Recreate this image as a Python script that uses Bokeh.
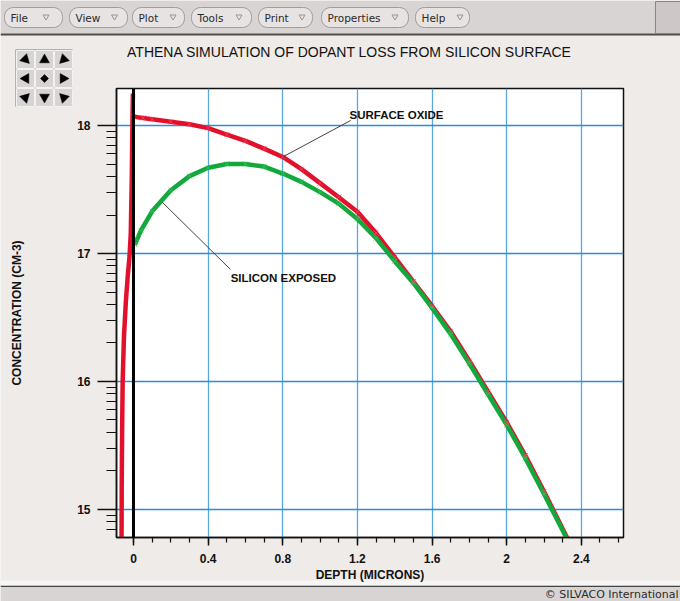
import math
from bokeh.plotting import figure
from bokeh.models import Span, Label, FixedTicker, Range1d, GridBox
from bokeh.core.properties import value
from bokeh.embed import file_html
from bokeh.resources import INLINE

# Dopant profiles: log10 of concentration (cm^-3) against depth (microns).
# The oxide layer lies at negative depth, silicon begins at depth 0.
oxide_depth = [-0.064, -0.063, -0.061, -0.058, -0.051, -0.041, -0.031, -0.021, -0.0145, -0.009, -0.005, -0.003]
oxide_conc = [14.70, 15.20, 15.60, 16.00, 16.35, 16.62, 16.82, 16.98, 17.16, 17.60, 18.10, 18.25]

capped_depth = [0.0, 0.05, 0.1, 0.2, 0.3, 0.4, 0.5, 0.6, 0.7, 0.8, 0.9, 1.0, 1.1, 1.2,
                1.3, 1.4, 1.5, 1.6, 1.7, 1.8, 1.9, 2.0, 2.1, 2.2, 2.33]
capped_conc = [18.07, 18.06, 18.05, 18.03, 18.01, 17.98, 17.93, 17.88, 17.82, 17.755,
               17.66, 17.55, 17.44, 17.326, 17.16, 16.97, 16.78, 16.59, 16.39, 16.16,
               15.92, 15.68, 15.42, 15.14, 14.76]

exposed_depth = [0.008, 0.008, 0.04, 0.1, 0.2, 0.3, 0.4, 0.5, 0.6, 0.7, 0.8, 0.9, 1.0, 1.1,
                 1.2, 1.3, 1.4, 1.5, 1.6, 1.7, 1.8, 1.9, 2.0, 2.1, 2.2, 2.33]
exposed_conc = [17.12, 17.07, 17.18, 17.33, 17.495, 17.605, 17.67, 17.70, 17.70, 17.68,
                17.625, 17.56, 17.48, 17.39, 17.27, 17.12, 16.94, 16.77, 16.575, 16.37,
                16.14, 15.90, 15.66, 15.40, 15.12, 14.75]

depth_ticks = [0, 0.4, 0.8, 1.2, 1.6, 2.0, 2.4]
depth_tick_labels = ["0", "0.4", "0.8", "1.2", "1.6", "2", "2.4"]
conc_ticks = [15, 16, 17, 18]
conc_tick_labels = ["15", "16", "17", "18"]

menu_names = ["File", "View", "Plot", "Tools", "Print", "Properties", "Help"]

RED = "#e3102c"
GREEN = "#13a83b"
FONT = "Liberation Sans"
BG = "#efebe8"
BAR = "#d9d4d4"
W, H = 680, 601

# ---------------------------------------------------------------- window chrome
# pixel-space canvas underneath the plot: menu bar, pan pad, title, status bar
ui = figure(width=W, height=H, x_range=Range1d(0, W), y_range=Range1d(H, 0),
            x_axis_type=None, y_axis_type=None, output_backend="svg",
            toolbar_location=None, min_border=0, outline_line_color=None,
            background_fill_color=BG, border_fill_color=BG)
ui.xgrid.visible = False
ui.ygrid.visible = False
ui.frame_align = False


def rounded(l, t, r, b, rad, n=6):
    xs, ys = [], []
    corners = [(r - rad, t + rad, -90, 0), (r - rad, b - rad, 0, 90),
               (l + rad, b - rad, 90, 180), (l + rad, t + rad, 180, 270)]
    for cx, cy, a0, a1 in corners:
        for k in range(n + 1):
            a = math.radians(a0 + (a1 - a0) * k / n)
            xs.append(cx + rad * math.cos(a))
            ys.append(cy + rad * math.sin(a))
    return xs, ys


# bars: menu bar, its lower edge, corner box, status bar, its upper edge, light rule
ui.quad(left=[0, 0, 655, 0, 0, 0], right=[W, W, W, W, W, W],
        top=[0, 33, 1, 585, 585, 580], bottom=[33, 35, 33, H, 586.5, 585],
        fill_color=[BAR, "#4d4d4d", "#cdc7c7", BAR, "#444444", "#f8f6f5"],
        line_color=[None, None, "#8a8484", None, None, None])

spans = [(4, 62), (69, 127), (132, 184), (191, 251), (258, 312), (321, 408), (415, 469)]
marks = [45.5, 114, 172.5, 238.5, 301.5, 394.5, 459.5]
bx, by, tri_x, tri_y = [], [], [], []
for (l, r), tx in zip(spans, marks):
    xs, ys = rounded(l, 7, r, 27, 9)
    bx.append(xs)
    by.append(ys)
    tri_x.append([tx - 3, tx + 3, tx])
    tri_y.append([14.5, 14.5, 19.5])
ui.patches(bx, by, fill_color="#e7e3e3", line_color="#a29c9c", line_width=1)
ui.patches(tri_x, tri_y, fill_color="#e7e3e3", line_color="#9a9494", line_width=1)
ui.text(x=[l + 6 for l, _ in spans], y=[17] * len(spans), text=menu_names,
        text_font=value("DejaVu Sans"), text_font_size="10.5px",
        text_baseline="middle", text_color="#2a2a2a")

# pan / zoom pad
ui.quad(left=[15], right=[72], top=[49], bottom=[106], fill_color="#7c7676", line_color=None)
cells_l = [16 + 19 * j for i in range(3) for j in range(3)]
cells_t = [50 + 19 * i for i in range(3) for j in range(3)]
ui.quad(left=cells_l, right=[v + 18 for v in cells_l], top=cells_t,
        bottom=[v + 18 for v in cells_t], fill_color="#d9d4d4",
        line_color="#f4f1f1", line_width=1)
dirs = {(0, 0): 45, (0, 1): -90, (0, 2): 135, (1, 0): 180, (1, 2): 0,
        (2, 0): -45, (2, 1): 90, (2, 2): -135}
ax_, ay_ = [], []
for (i, j), ang in dirs.items():
    cx, cy = 16 + 19 * j + 9, 50 + 19 * i + 9
    a = math.radians(ang)
    ux, uy = math.cos(a), math.sin(a)
    rr = 5.5
    ax_.append([cx + rr * ux, cx - 0.6 * rr * ux - 0.9 * rr * uy, cx - 0.6 * rr * ux + 0.9 * rr * uy])
    ay_.append([cy + rr * uy, cy - 0.6 * rr * uy + 0.9 * rr * ux, cy - 0.6 * rr * uy - 0.9 * rr * ux])
cx, cy = 16 + 19 + 9, 50 + 19 + 9
ax_.append([cx, cx + 4, cx, cx - 4])
ay_.append([cy - 4, cy, cy + 4, cy])
ui.patches(ax_, ay_, fill_color="black", line_color="black", line_width=0.5)

# plot title
ui.text(x=[349], y=[51], text=["ATHENA SIMULATION OF DOPANT LOSS FROM SILICON SURFACE"],
        text_font=value(FONT), text_font_size="14px", text_align="center",
        text_baseline="middle", text_color="#111111")

# status line
ui.text(x=[678], y=[594], text=["\u00a9 SILVACO International"],
        text_font=value("DejaVu Sans"), text_font_size="11px", text_align="right",
        text_baseline="middle", text_color="#2a2a2a")

# ---------------------------------------------------------------- profile plot
p = figure(width=W, height=H,
           x_range=Range1d(-0.091, 2.626), y_range=Range1d(14.78, 18.29),
           output_backend="svg", toolbar_location=None,
           min_border_left=116, min_border_right=57,
           min_border_top=88, min_border_bottom=64,
           background_fill_color="white", border_fill_alpha=0,
           outline_line_color="#111111", outline_line_width=1.5)
p.frame_align = False

# log-decade minor ticks on the concentration axis, 0.1 micron minor ticks on depth
conc_minor = [d + math.log10(k) for d in range(14, 19) for k in range(2, 10)]
depth_minor = [i / 10 for i in range(-1, 27)]

xa = p.xaxis[0]
xa.ticker = FixedTicker(ticks=depth_ticks, minor_ticks=depth_minor)
xa.major_label_overrides = dict(zip(depth_ticks, depth_tick_labels))
xa.axis_label = "DEPTH (MICRONS)"
xa.major_tick_out, xa.major_tick_in = 8, 0
xa.minor_tick_out, xa.minor_tick_in = 5, 0
xa.major_label_standoff = 8
xa.axis_label_standoff = 2

ya = p.yaxis[0]
ya.ticker = FixedTicker(ticks=conc_ticks, minor_ticks=conc_minor)
ya.major_label_overrides = dict(zip(conc_ticks, conc_tick_labels))
ya.axis_label = "CONCENTRATION (CM-3)"
ya.major_tick_out, ya.major_tick_in = 19, 0
ya.minor_tick_out, ya.minor_tick_in = 10, 0
ya.major_label_standoff = 7
ya.axis_label_standoff = 50

for ax in (xa, ya):
    ax.axis_line_color = "#111111"
    ax.axis_line_width = 1.5
    ax.major_tick_line_color = "#111111"
    ax.major_tick_line_width = 1.5
    ax.minor_tick_line_color = "#111111"
    ax.minor_tick_line_width = 1.2
    ax.major_label_text_font = FONT
    ax.major_label_text_font_style = "bold"
    ax.major_label_text_font_size = "12px"
    ax.major_label_text_color = "#111111"
    ax.axis_label_text_font = FONT
    ax.axis_label_text_font_style = "bold"
    ax.axis_label_text_font_size = "12px"
    ax.axis_label_text_color = "#111111"

for g in p.grid:
    if g.dimension == 0:
        g.ticker = FixedTicker(ticks=depth_ticks)
        g.grid_line_color = "#5aa6de"
    else:
        g.ticker = FixedTicker(ticks=conc_ticks)
        g.grid_line_color = "#2f8ae0"
    g.grid_line_width = 1.3
    g.grid_line_alpha = 1.0

# surface oxide case: oxide part and silicon part
p.line(oxide_depth, oxide_conc, line_color=RED, line_width=4.5)
p.line(capped_depth, capped_conc, line_color=RED, line_width=4.5)
# exposed silicon case
p.line(exposed_depth, exposed_conc, line_color=GREEN, line_width=4.5)
# node symbols along both profiles
p.scatter(capped_depth, capped_conc, marker="x", size=7, line_color="#f04a60", line_alpha=0.8)
p.scatter(exposed_depth, exposed_conc, marker="x", size=7, line_color="#3cc35e", line_alpha=0.8)

# oxide / silicon interface
p.add_layout(Span(location=0, dimension="height", line_color="black", line_width=3))

# curve labels with leader lines
p.line([capped_depth[9], 1.164], [capped_conc[9], 18.04], line_color="#444444", line_width=1)
p.line([0.155, 0.52], [17.40, 16.875], line_color="#444444", line_width=1)
p.add_layout(Label(x=1.158, y=18.08, text="SURFACE OXIDE", text_font=FONT,
                   text_font_style="bold", text_font_size="11.5px",
                   text_baseline="middle", text_color="#111111"))
p.add_layout(Label(x=0.521, y=16.805, text="SILICON EXPOSED", text_font=FONT,
                   text_font_style="bold", text_font_size="11.5px",
                   text_baseline="middle", text_color="#111111"))

# the plot sits on top of the chrome canvas in the same grid cell
layout = GridBox(children=[(ui, 0, 0), (p, 0, 0)])

open("out.html", "w", encoding="utf-8").write(file_html(layout, INLINE))
